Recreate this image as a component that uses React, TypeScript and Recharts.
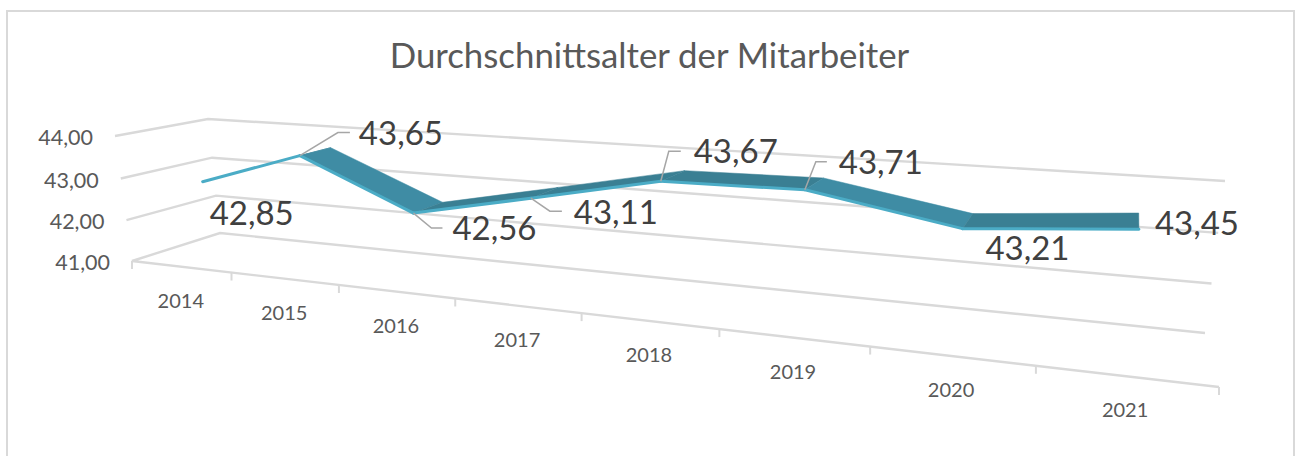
import React from 'react'
import { ComposedChart, Line, XAxis, YAxis, CartesianGrid } from 'recharts'

const years = ['2014', '2015', '2016', '2017', '2018', '2019', '2020', '2021']
const ages = [42.85, 43.65, 42.56, 43.11, 43.67, 43.71, 43.21, 43.45]
const ageTicks = [41, 42, 43, 44]

const chartData = years.map((year, i) => ({ year, age: ages[i] }))

const W = 1296
const H = 456

type Pt = [number, number]

// Excel draws this as a 3D line chart, so the plot coords get pushed through a
// perspective map: each plane is a quad (low-left, low-right, high-right, high-left)
function makePlane([p0, p1, p2, p3]: Pt[]) {
  const dx1 = p1[0] - p2[0]
  const dx2 = p3[0] - p2[0]
  const sx = p0[0] - p1[0] + p2[0] - p3[0]
  const dy1 = p1[1] - p2[1]
  const dy2 = p3[1] - p2[1]
  const sy = p0[1] - p1[1] + p2[1] - p3[1]
  const det = dx1 * dy2 - dx2 * dy1
  const g = (sx * dy2 - dx2 * sy) / det
  const h = (dx1 * sy - sx * dy1) / det
  const a = p1[0] - p0[0] + g * p1[0]
  const b = p3[0] - p0[0] + h * p3[0]
  const d = p1[1] - p0[1] + g * p1[1]
  const e = p3[1] - p0[1] + h * p3[1]
  // takes chart pixels from the library's scales
  return (px: number, py: number): Pt => {
    const u = px / W
    const w = (H - py) / H
    const q = g * u + h * w + 1
    return [(a * u + b * w + p0[0]) / q, (d * u + e * w + p0[1]) / q]
  }
}

const frontWall = makePlane([[132, 261], [1219, 387], [1242, 213], [115, 136]])
const backWall = makePlane([[220, 233], [1205, 333], [1225, 181], [208, 119]])
const ribbonFront = makePlane([[165, 252], [1218, 376], [1238, 204], [149, 130]])
const ribbonBack = makePlane([[194, 241.5], [1211, 349], [1231, 189], [180, 123.5]])

const poly = (pts: Pt[]) => pts.map((p) => p.join(',')).join(' ')

// label centre relative to the point
const labelOffsets: Pt[] = [[49, 30], [101, -24], [81, 14], [85, 13], [75, -31], [76, -29], [65, 18], [58, -7]]
const leaderOffsets: (Pt[] | null)[] = [
  null,
  [[38, -23], [50, -23]],
  [[18, 15], [29, 15]],
  [[19, 13], [31, 13]],
  [[8, -30], [20, -30]],
  [[11, -28], [22, -28]],
  null,
  null,
]

const GridLine = (props: any) => {
  const y = props.y1
  const pts = [backWall(W, y), backWall(0, y), frontWall(0, y)]
  // the floor also has its front edge
  if (y >= H - 2) pts.push(frontWall(W, y))
  return <polyline key={props.key} points={poly(pts)} fill="none" stroke="#d9d9d9" strokeWidth={2.4} />
}

const YearTick = ({ x, index, payload }: any) => {
  const band = W / years.length
  const [lx, ly] = frontWall(x, H)
  const edges = index === years.length - 1 ? [x - band / 2, x + band / 2] : [x - band / 2]
  return (
    <g>
      {edges.map((ex) => {
        const [tx, ty] = frontWall(ex, H)
        return <line key={ex} x1={tx} y1={ty} x2={tx} y2={ty + 8} stroke="#d9d9d9" strokeWidth={2} />
      })}
      <text x={lx} y={ly + 33} textAnchor="middle" dominantBaseline="central" fontFamily="Lato" fontSize={20} fill="#595959">
        {payload.value}
      </text>
    </g>
  )
}

const AgeTick = ({ y, payload }: any) => {
  const [lx, ly] = frontWall(0, y)
  return (
    <text x={lx - 22} y={ly + 1} textAnchor="end" dominantBaseline="central" fontFamily="Lato" fontSize={21.5} fill="#595959">
      {payload.value.toFixed(2).replace('.', ',')}
    </text>
  )
}

const RibbonSegment = ({ cx, cy, index, points }: any) => {
  const next = points[index + 1]
  if (!next) return <g key={index} />
  const fill = ages[index + 1] < ages[index] ? '#3f8ca4' : '#3a7f93'
  const quad = [ribbonFront(cx, cy), ribbonFront(next.x, next.y), ribbonBack(next.x, next.y), ribbonBack(cx, cy)]
  return <polygon key={index} points={poly(quad)} fill={fill} stroke={fill} strokeWidth={0.5} />
}

const EdgeSegment = ({ cx, cy, index, points }: any) => {
  const next = points[index + 1]
  if (!next) return <g key={index} />
  const [x1, y1] = ribbonFront(cx, cy)
  const [x2, y2] = ribbonFront(next.x, next.y)
  return <line key={index} x1={x1} y1={y1} x2={x2} y2={y2} stroke="#4bacc6" strokeWidth={3} strokeLinecap="round" />
}

const ValueLabel = ({ x, y, index, value }: any) => {
  const [px, py] = ribbonFront(x, y)
  const [dx, dy] = labelOffsets[index]
  const leader = leaderOffsets[index]
  return (
    <g>
      {leader && (
        <polyline
          points={poly([[px, py], ...leader.map(([lx, ly]): Pt => [px + lx, py + ly])])}
          fill="none"
          stroke="#a6a6a6"
          strokeWidth={1.5}
        />
      )}
      <text x={px + dx} y={py + dy} textAnchor="middle" dominantBaseline="central" fontFamily="Lato" fontSize={33} fill="#404040">
        {value.toFixed(2).replace('.', ',')}
      </text>
    </g>
  )
}

export default function App() {
  return (
    <div style={{ position: 'absolute', left: 0, top: 0, width: W, height: H, background: '#fff', overflow: 'hidden' }}>
      <div style={{ position: 'absolute', left: 6, top: 10, width: 1285, height: 460, border: '2px solid #d9d9d9' }} />
      <div
        style={{
          position: 'absolute',
          left: 0,
          width: 1299,
          top: 35,
          textAlign: 'center',
          fontFamily: 'Lato',
          fontSize: 34.8,
          lineHeight: '40px',
          color: '#595959',
        }}
      >
        Durchschnittsalter der Mitarbeiter
      </div>
      <ComposedChart
        width={W}
        height={H}
        data={chartData}
        margin={{ top: 0, right: 0, bottom: -1, left: -1 }}
        style={{ position: 'absolute', left: 0, top: 0 }}
      >
        <CartesianGrid vertical={false} horizontal={GridLine} />
        <XAxis dataKey="year" scale="band" height={1} axisLine={false} tickLine={false} interval={0} tick={YearTick} />
        <YAxis
          width={1}
          domain={[41, 44]}
          ticks={ageTicks}
          interval={0}
          axisLine={false}
          tickLine={false}
          tick={AgeTick}
        />
        <Line dataKey="age" stroke="none" dot={RibbonSegment} activeDot={false} isAnimationActive={false} />
        <Line dataKey="age" stroke="none" dot={EdgeSegment} activeDot={false} label={ValueLabel} isAnimationActive={false} />
      </ComposedChart>
    </div>
  )
}
